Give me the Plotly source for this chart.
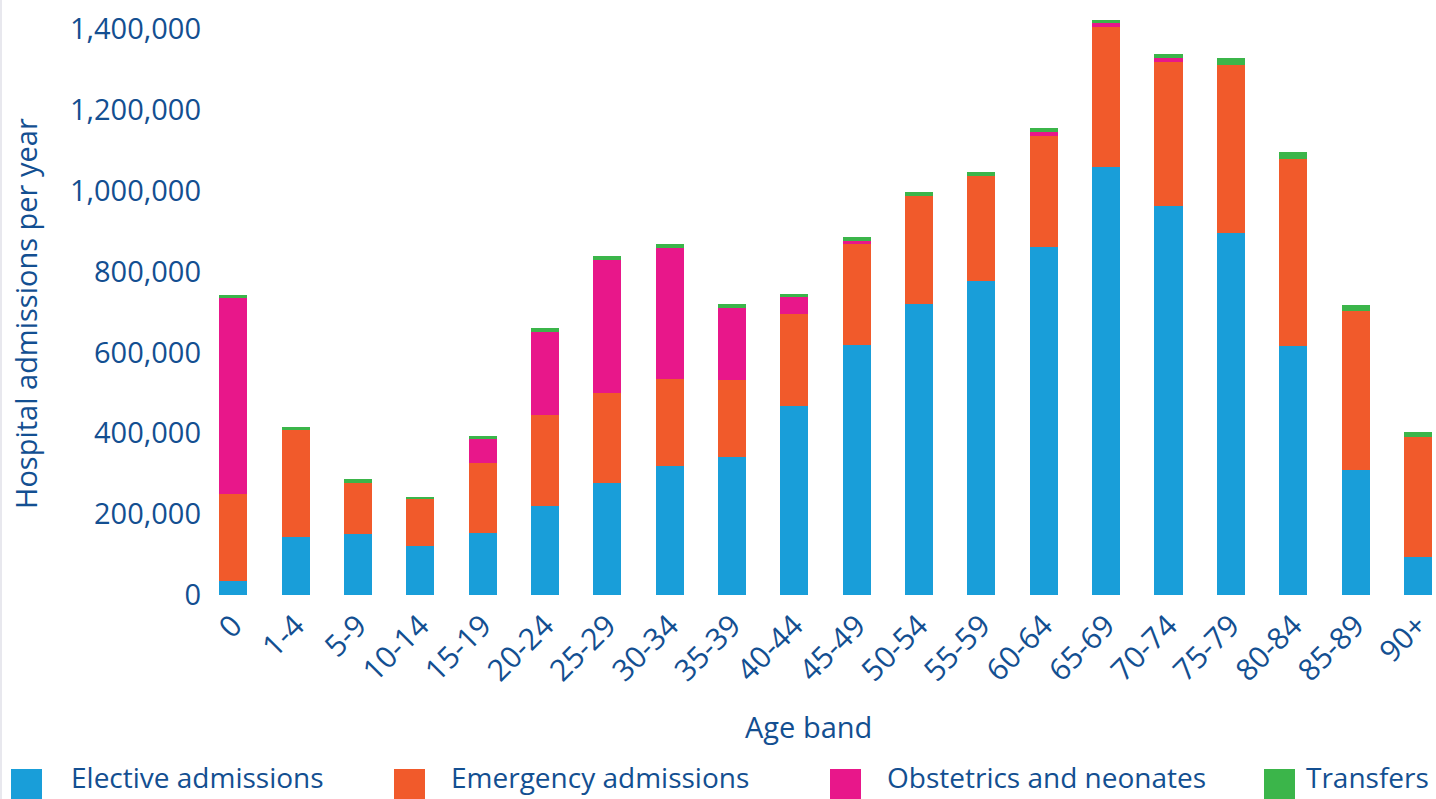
import plotly.graph_objects as go

age_bands = ["0", "1-4", "5-9", "10-14", "15-19", "20-24", "25-29", "30-34", "35-39", "40-44",
             "45-49", "50-54", "55-59", "60-64", "65-69", "70-74", "75-79", "80-84", "85-89", "90+"]

elective = [35000, 143000, 152000, 122000, 153000, 221000, 277000, 320000, 341000, 468000,
            618000, 720000, 777000, 860000, 1060000, 962000, 895000, 617000, 309000, 93500]
emergency = [215000, 266000, 125000, 115000, 173000, 224000, 223000, 214000, 191000, 227000,
             250000, 267000, 260000, 275000, 345000, 358000, 416000, 461000, 393000, 296500]
obstetrics = [485000, 0, 0, 0, 60000, 206000, 329000, 325000, 179000, 43000,
              8000, 0, 0, 10000, 10000, 10000, 0, 0, 0, 0]
transfers = [7000, 7000, 10000, 5000, 7000, 9000, 9000, 9000, 9000, 7000,
             10000, 10000, 9000, 10000, 8000, 8000, 19000, 17000, 14500, 14000]

series_names = ["Elective admissions", "Emergency admissions", "Obstetrics and neonates", "Transfers"]
series_colors = ["#199ed9", "#f15a2b", "#e8178a", "#3bb54a"]
series_values = [elective, emergency, obstetrics, transfers]

y_ticks = [0, 200000, 400000, 600000, 800000, 1000000, 1200000, 1400000]

TEXT = "#134f91"
FONT = "Open Sans"

fig = go.Figure()
for name, color, vals in zip(series_names, series_colors, series_values):
    fig.add_trace(go.Bar(x=age_bands, y=vals, name=name, marker=dict(color=color, line=dict(width=0)),
                         showlegend=False))

W, H = 1436, 799
ml, mr, mt, mb = 202, 0, 9, 204
pw = W - ml - mr
ph = H - mt - mb


def px_x(px):
    return (px - ml) / pw


def px_y(py):
    return (H - mb - py) / ph


# Custom legend with large square swatches
legend_sq_x = [11, 394, 830, 1264]
legend_txt_x = [69, 449, 885, 1431]
legend_txt_anchor = ["left", "left", "left", "right"]
legend_sq_y = 782
legend_txt_y = 777
sq = 31
shapes = []
annotations = []
for name, color, sx, tx, anc in zip(series_names, series_colors, legend_sq_x, legend_txt_x, legend_txt_anchor):
    shapes.append(dict(type="rect", xref="paper", yref="paper",
                       x0=px_x(sx), x1=px_x(sx + sq),
                       y0=px_y(legend_sq_y + 18), y1=px_y(legend_sq_y - 13),
                       fillcolor=color, line=dict(width=0)))
    annotations.append(dict(text=name, xref="paper", yref="paper",
                            x=px_x(tx), y=px_y(legend_txt_y),
                            xanchor=anc, yanchor="middle", showarrow=False,
                            font=dict(family=FONT, size=28, color=TEXT)))

# axis titles
annotations.append(dict(text="Hospital admissions per year", xref="paper", yref="paper",
                        x=px_x(25), y=px_y(314), textangle=-90, xanchor="center", yanchor="middle",
                        showarrow=False, font=dict(family=FONT, size=29, color=TEXT)))
annotations.append(dict(text="Age band", xref="paper", yref="paper",
                        x=px_x(808), y=px_y(726), xanchor="center", yanchor="middle",
                        showarrow=False, font=dict(family=FONT, size=29, color=TEXT)))

# thin border line at the left edge
shapes.append(dict(type="line", xref="paper", yref="paper", x0=px_x(1), x1=px_x(1),
                   y0=px_y(H), y1=px_y(0), line=dict(color="#e8e8ee", width=2)))

fig.update_layout(
    width=W, height=H,
    barmode="stack", bargap=0.55,
    plot_bgcolor="white", paper_bgcolor="white",
    margin=dict(l=ml, r=mr, t=mt, b=mb, autoexpand=False),
    font=dict(family=FONT, color=TEXT, size=28),
    shapes=shapes, annotations=annotations,
    xaxis=dict(type="category", range=[-0.5, 19.29], tickangle=-45, showgrid=False, zeroline=False,
               showline=False, ticks="", ticklabelstandoff=6, tickfont=dict(size=30, color=TEXT)),
    yaxis=dict(range=[0, 1450000], tickvals=y_ticks, tickformat=",d", showgrid=False, zeroline=False,
               showline=False, ticks="", tickfont=dict(size=29, color=TEXT)),
)

fig.write_html("out.html")
